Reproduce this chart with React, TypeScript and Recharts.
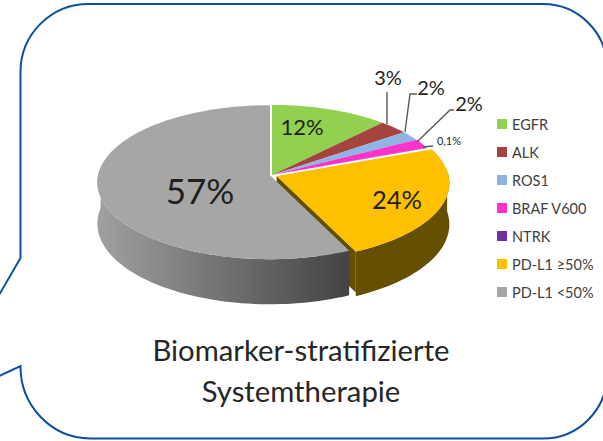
import { PieChart, Pie, Legend } from 'recharts';

const names = ['EGFR', 'ALK', 'ROS1', 'BRAF V600', 'NTRK', 'PD-L1 ≥50%', 'PD-L1 <50%'];
const values = [12, 3, 2, 2, 0.1, 24, 57];
const labels = ['12%', '3%', '2%', '2%', '0,1%', '24%', '57%'];
const colors = ['#92D050', '#A5433F', '#8DB4E2', '#FF33CC', '#7030A0', '#FFC000', '#A6A6A6'];
const wallColors = ['none', 'none', 'none', 'none', 'none', '#654F00', 'url(#grayWall)'];
const explode = [0, 0, 0, 0, 0, 5, 2];

const data = names.map((name, i) => ({ name, value: values[i], fill: colors[i] }));

// where each percent text sits, and its leader line if it has one
const labelSpots = [
  { x: 302, y: 135, size: 22 },
  { x: 388, y: 85, size: 20, line: '387,92 387,124' },
  { x: 431, y: 95, size: 20, line: '405,132 410,94 417,94' },
  { x: 469, y: 111, size: 20, line: '417,142 450,110 454,110' },
  { x: 449, y: 145, size: 11, line: '423,147 433,146' },
  { x: 397, y: 209, size: 25.5 },
  { x: 200, y: 204, size: 35 },
];

const FONT = 'Lato, sans-serif';
const RX = 172;
const RY = 76.4;
const APEX_Y = 175;
const DEPTH = 41;
const TILT = 0.09;

// flat disc seen in perspective: the far rim is narrower than the near one
function project(cx: number, deg: number) {
  const a = (deg * Math.PI) / 180;
  const z = -Math.sin(a);
  const s = 1 / (1 - TILT * z);
  return { x: cx + RX * Math.cos(a) * s, y: APEX_Y + RY * z * s, s };
}

function rim(cx: number, from: number, to: number) {
  const steps = Math.max(2, Math.ceil(Math.abs(to - from) / 2));
  const pts = [];
  for (let i = 0; i <= steps; i++) pts.push(project(cx, from + ((to - from) * i) / steps));
  return pts;
}

function shift(props: any) {
  const mid = ((props.startAngle + props.endAngle) / 2) * (Math.PI / 180);
  const e = explode[props.index] ?? 0;
  return { dx: e * Math.cos(mid), dy: e * Math.sin(-mid) * 0.6 };
}

function TopSlice(props: any) {
  const { cx, startAngle, endAngle, fill } = props;
  const { dx, dy } = shift(props);
  const pts = rim(cx, startAngle, endAngle).map((p) => `${p.x},${p.y}`);
  return <path d={`M${cx},${APEX_Y} L${pts.join(' L')} Z`} fill={fill} transform={`translate(${dx},${dy})`} />;
}

function WallSlice(props: any) {
  const { cx, startAngle, endAngle, index } = props;
  const fill = wallColors[index];
  if (fill === 'none') return <g />;
  const { dx, dy } = shift(props);
  // only the front half of the rim shows
  const front = Math.min(startAngle, 4);
  const back = Math.max(endAngle, -186);
  const pts = rim(cx, front, back);
  const outline = [
    ...pts.map((p) => `${p.x},${p.y}`),
    ...pts.reverse().map((p) => `${p.x},${p.y + DEPTH * p.s}`),
  ];
  const pe = project(cx, endAngle);
  return (
    <g transform={`translate(${dx},${dy})`}>
      {index === 5 && (
        <path
          d={`M${cx},${APEX_Y} L${pe.x},${pe.y} L${pe.x},${pe.y + DEPTH} L${cx},${APEX_Y + DEPTH} Z`}
          fill={fill}
        />
      )}
      <path d={`M${outline.join(' L')} Z`} fill={fill} />
    </g>
  );
}

function PercentLabel(props: any) {
  const spot = labelSpots[props.index];
  return (
    <g>
      {spot.line && <polyline points={spot.line} fill="none" stroke="#595959" strokeWidth={1.4} />}
      <text x={spot.x} y={spot.y} textAnchor="middle" fontFamily={FONT} fontSize={spot.size} fill="#1F1F1F">
        {labels[props.index]}
      </text>
    </g>
  );
}

function LegendList({ payload }: any) {
  // both pies report their slices, keep one row per name in data order
  const rows = names.map((n) => (payload ?? []).find((item: any) => item.value === n)).filter(Boolean);
  return (
    <div style={{ fontFamily: FONT, fontSize: 14.5, color: '#404040' }}>
      {rows.map((item: any) => (
        <div key={item.value} style={{ display: 'flex', alignItems: 'center', height: 28 }}>
          <span style={{ width: 10, height: 10, background: item.color, marginRight: 5 }} />
          {item.value}
        </div>
      ))}
    </div>
  );
}

export default function App() {
  return (
    <div style={{ position: 'absolute', left: 0, top: 0, width: 603, height: 441, overflow: 'hidden' }}>
      <PieChart width={603} height={441} margin={{ top: 0, right: 0, bottom: 0, left: 0 }}>
        <defs>
          <linearGradient id="grayWall" x1="0" x2="1" y1="0" y2="0">
            <stop offset="0" stopColor="#A0A0A0" />
            <stop offset="1" stopColor="#434343" />
          </linearGradient>
        </defs>
        <path
          d="M-5,302 L20.5,258 L20.5,72 A68,68 0 0 1 88.5,4 L543,4 A64,64 0 0 1 607,68 L607,375 A64,64 0 0 1 543,438.5 L90,438.5 A70,72 0 0 1 20.5,366 L-5,378"
          fill="none"
          stroke="#0B4F9E"
          strokeWidth={2}
        />
        <Pie
          data={data}
          dataKey="value"
          nameKey="name"
          cx={272}
          cy={APEX_Y}
          outerRadius={RX}
          startAngle={90}
          endAngle={-270}
          paddingAngle={0}
          stroke="none"
          legendType="none"
          shape={WallSlice}
          isAnimationActive={false}
        />
        <Pie
          data={data}
          dataKey="value"
          nameKey="name"
          cx={272}
          cy={APEX_Y}
          outerRadius={RX}
          startAngle={90}
          endAngle={-270}
          paddingAngle={0}
          stroke="none"
          legendType="square"
          shape={TopSlice}
          label={PercentLabel}
          labelLine={false}
          isAnimationActive={false}
        />
        <text x={301} y={361} textAnchor="middle" fontFamily={FONT} fontSize={29.3} fill="#262626">
          Biomarker-stratifizierte
        </text>
        <text x={301} y={402} textAnchor="middle" fontFamily={FONT} fontSize={29.3} fill="#262626">
          Systemtherapie
        </text>
        <Legend
          layout="vertical"
          content={<LegendList />}
          wrapperStyle={{ position: 'absolute', left: 497, top: 110, width: 106 }}
        />
      </PieChart>
    </div>
  );
}
